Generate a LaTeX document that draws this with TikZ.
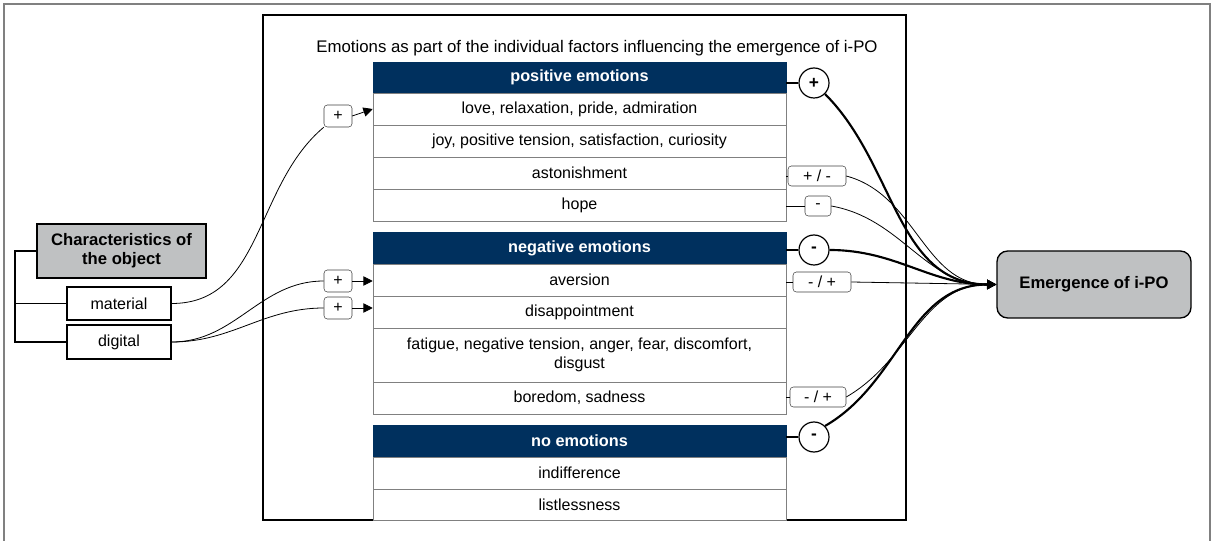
\documentclass[tikz,border=0pt]{standalone}
\usepackage{fontspec}
\setmainfont{Liberation Sans}
\usetikzlibrary{arrows.meta}
\definecolor{azul}{RGB}{0,48,94}
\definecolor{cinza}{RGB}{191,193,194}
\definecolor{borda}{RGB}{128,128,128}

\begin{document}
\begin{tikzpicture}[x=0.75pt,y=-0.75pt,font=\fontsize{12}{14}\selectfont,
  celula/.style={draw=borda,fill=white,minimum width=309.75pt,inner sep=0pt,align=center},
  cabeca/.style={draw=azul,fill=azul,text=white,font=\fontsize{12.2}{14}\selectfont\bfseries,
    minimum width=309.75pt,minimum height=23.25pt,inner sep=0pt},
  sinal/.style={draw,circle,fill=white,line width=0.9pt,minimum size=22.5pt,inner sep=0pt,
    font=\fontsize{13}{15}\selectfont\bfseries},
  rotulo/.style={draw=black!75,fill=white,rounded corners=2.5pt,minimum height=15pt,inner sep=0pt},
  caixa/.style={draw,line width=1pt,inner sep=0pt,align=center},
  fio/.style={line width=0.6pt},
  grosso/.style={line width=1.6pt},
  seta/.style={-{Triangle[length=7pt,width=7pt]}}]

\useasboundingbox (0,0) rectangle (1213,541);

% moldura
\draw[borda,line width=1pt] (4,541) -- (4,4) -- (1210,4) -- (1210,541);

% quadro das emocoes
\node[draw,line width=1pt,minimum width=482.25pt,minimum height=378.75pt,inner sep=0pt] (quadro) at (584.5,267.5) {};
\node[font=\fontsize{12.6}{14}\selectfont] (titulo) at (597,48) {Emotions as part of the individual factors influencing the emergence of i-PO};

% tabela
\node[cabeca] (pos) at (579.5,77.5) {positive emotions};
\node[cabeca] (neg) at (579.5,248) {negative emotions};
\node[cabeca] (nao) at (579.5,441) {no emotions};
\foreach \nome/\txt/\yc/\h in {
    love/{love, relaxation, pride, admiration}/109/24,
    joy/{joy, positive tension, satisfaction, curiosity}/141/24,
    aston/astonishment/173/24,
    hope/hope/205/24,
    aversion/aversion/280/24,
    disap/disappointment/312/24,
    fatigue/{fatigue, negative tension, anger, fear, discomfort,\\disgust}/355/40.5,
    boredom/{boredom, sadness}/398/24,
    indif/indifference/473/24,
    listless/listlessness/504.5/23.25}
  \node[celula,minimum height=\h pt] (\nome) at (579.5,\yc) {\txt};

% sinais a direita
\node[sinal] (cpos) at (814,83) {+};
\node[sinal] (cneg) at (814,250) {-};
\node[sinal] (cnao) at (814,437) {-};
\draw[line width=0.9pt] (cpos.west) -- (cpos.west -| pos.east);
\draw[line width=0.9pt] (cneg.west) -- (cneg.west -| neg.east);
\draw[line width=0.9pt] (cnao.west) -- (cnao.west -| nao.east);

\node[rotulo,minimum width=43.5pt] (lpm) at (817,176) {+ / -};
\node[rotulo,minimum width=19.5pt] (lm) at (818,206) {-};
\node[rotulo,minimum width=43.5pt] (lmp1) at (822,282) {- / +};
\node[rotulo,minimum width=42pt] (lmp2) at (818,397) {- / +};
\draw[fio] (lpm.west) -- (lpm.west -| aston.east);
\draw[fio] (lm.west) -- (lm.west -| hope.east);
\draw[fio] (lmp1.west) -- (lmp1.west -| aversion.east);
\draw[fio] (lmp2.west) -- (lmp2.west -| boredom.east);

% resultado
\node[caixa,fill=cinza,rounded corners=8pt,font=\fontsize{12.5}{14}\selectfont\bfseries,minimum width=145.5pt,minimum height=50.25pt] (alvo) at (1094,284.5) {Emergence of i-PO};

\draw[grosso,seta] (cpos.south east) to[out=-45,in=180] (alvo.west);
\draw[fio,seta] (lpm.east) to[out=-15,in=180] (alvo.west);
\draw[fio,seta] (lm.east) to[out=-10,in=180] (alvo.west);
\draw[grosso,seta] (cneg.east) to[out=0,in=180] (alvo.west);
\draw[fio,seta] (lmp1.east) -- (alvo.west);
\draw[fio,seta] (lmp2.east) to[out=30,in=180] (alvo.west);
\draw[grosso,seta] (cnao.north east) to[out=30,in=180] (alvo.west);

% caracteristicas do objeto
\node[caixa,fill=cinza,font=\fontsize{12.5}{14.5}\selectfont\bfseries,minimum width=126.75pt,minimum height=40.5pt] (carac) at (121.5,251) {Characteristics of\\the object};
\node[caixa,minimum width=78pt,minimum height=24.75pt] (material) at (119,303.5) {material};
\node[caixa,minimum width=78pt,minimum height=25.5pt] (digital) at (119,342) {digital};
\coordinate (chave) at (15,251);
\draw[line width=1pt] (carac.west) -- (chave) |- (digital.west);
\draw[line width=1pt] (chave |- material.west) -- (material.west);

\node[rotulo,minimum width=21pt,minimum height=16.5pt] (mais1) at (338,116) {+};
\node[rotulo,minimum width=21pt,minimum height=16.5pt] (mais2) at (338,281) {+};
\node[rotulo,minimum width=21pt,minimum height=16.5pt] (mais3) at (338,308) {+};
\draw[fio,seta] (mais1.east) -- (love.west);
\draw[fio,seta] (mais2.east) -- (mais2.east -| aversion.west);
\draw[fio,seta] (mais3.east) -- (mais3.east -| disap.west);
\draw[fio] (material.east) to[out=0,in=-140] (mais1.south west);
\draw[fio] (digital.east) to[out=0,in=180] (mais2.west);
\draw[fio] (digital.east) to[out=0,in=180] (mais3.west);

\end{tikzpicture}
\end{document}
